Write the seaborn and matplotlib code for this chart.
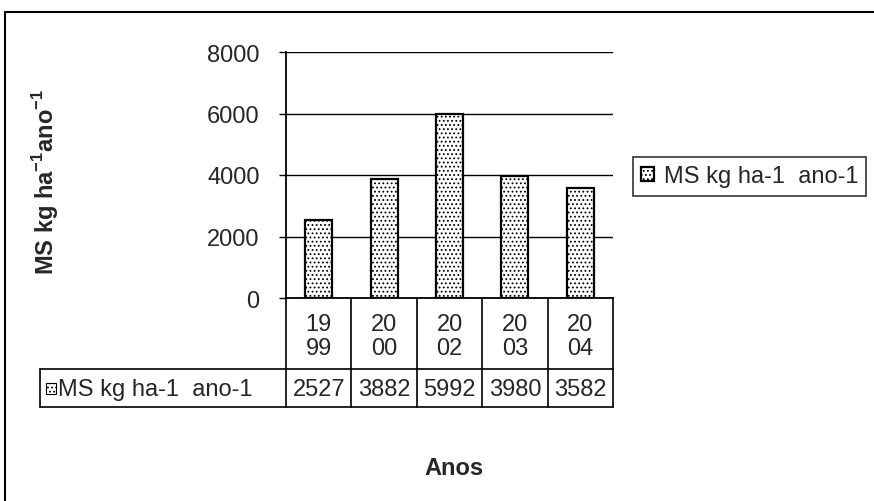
import matplotlib
matplotlib.use('Agg')
import matplotlib.pyplot as plt
from matplotlib.patches import Rectangle
from matplotlib.lines import Line2D
import seaborn as sns
import numpy as np
import pandas as pd

# Data
anos = ['1999', '2000', '2002', '2003', '2004']
ms_valores = [2527, 3882, 5992, 3980, 3582]
serie = 'MS kg ha-1  ano-1'
y_ticks = [0, 2000, 4000, 6000, 8000]

df = pd.DataFrame({'Ano': anos, 'MS': ms_valores})

sns.set_style('white')
plt.rcParams['font.family'] = ['Liberation Sans', 'DejaVu Sans']
plt.rcParams['mathtext.fontset'] = 'custom'
plt.rcParams['mathtext.rm'] = 'Liberation Sans'
plt.rcParams['mathtext.bf'] = 'Liberation Sans:bold'
plt.rcParams['hatch.linewidth'] = 0.8

fs = 17
W, H = 874, 502
fig = plt.figure(figsize=(W / 100, H / 100), dpi=100)

# axes placed by pixel box of the plot area
ax_l, ax_r, ax_t, ax_b = 286, 613, 53, 299
ax = fig.add_axes([ax_l / W, 1 - ax_b / H, (ax_r - ax_l) / W, (ax_b - ax_t) / H])

sns.barplot(data=df, x='Ano', y='MS', color='white', edgecolor='black',
            linewidth=1.6, width=0.41, ax=ax, label=serie)
for p in ax.patches:
    p.set_hatch('....')
    p.set_facecolor('white')

ax.set_ylim(0, 8000)
ax.set_yticks(y_ticks)
ax.set_yticklabels([str(v) for v in y_ticks], fontsize=fs)
ax.tick_params(axis='y', length=5, width=1, color='black', pad=14, left=True)
ax.tick_params(axis='x', length=0, labelbottom=False)
ax.set_xlabel('')
ax.set_ylabel('')
ax.grid(axis='y', color='black', linewidth=1)
ax.set_axisbelow(True)
for s in ['top', 'right']:
    ax.spines[s].set_visible(False)
for s in ['left', 'bottom']:
    ax.spines[s].set_color('black')
    ax.spines[s].set_linewidth(1.3)

# data table under the axis
def fy(px):
    return (ax_b - px) / (ax_b - ax_t)

def fx(px):
    return (px - ax_l) / (ax_r - ax_l)

trans = ax.get_xaxis_transform()
row1, row2 = 370, 408
xs = np.asarray(ax.get_xticks(), dtype=float)
for x in list(xs - 0.5) + [xs[-1] + 0.5]:
    ax.add_line(Line2D([x, x], [0, fy(row2)], transform=trans, color='black',
                       linewidth=1.2, clip_on=False))
for yy in [row1, row2]:
    ax.add_line(Line2D([fx(40), 1.0], [fy(yy), fy(yy)], transform=ax.transAxes,
                       color='black', linewidth=1.2, clip_on=False))
ax.add_line(Line2D([fx(40), fx(40)], [fy(row1), fy(row2)], transform=ax.transAxes,
                   color='black', linewidth=1.2, clip_on=False))

for x, ano, v in zip(xs, anos, ms_valores):
    ax.text(x, fy(337), ano[:2] + '\n' + ano[2:], transform=trans, ha='center',
            va='center', fontsize=fs, linespacing=1.15)
    ax.text(x, fy(390), str(v), transform=trans, ha='center', va='center',
            fontsize=fs)

ax.add_patch(Rectangle((fx(46), fy(395)), fx(56) - fx(46), fy(384) - fy(395),
                       transform=ax.transAxes, facecolor='white', edgecolor='black',
                       linewidth=0.8, hatch='....', clip_on=False))
ax.text(fx(58), fy(390), serie, transform=ax.transAxes, ha='left', va='center',
        fontsize=fs)

# legend
leg = ax.legend(loc='upper left', bbox_to_anchor=(633 / W, 1 - 158 / H),
                bbox_transform=fig.transFigure, borderaxespad=0, fontsize=fs,
                frameon=True, fancybox=False, handlelength=0.55, handleheight=0.55,
                handletextpad=0.4, borderpad=0.35)
leg.get_frame().set_edgecolor('black')
leg.get_frame().set_linewidth(1.2)

# axis titles
fig.text(46 / W, 1 - 182 / H, r'MS kg ha$^{\mathbf{-1}}$ano$^{\mathbf{-1}}$',
         rotation=90, ha='center', va='center', fontsize=fs, fontweight='bold')
fig.text(454 / W, 1 - 469 / H, 'Anos', ha='center', va='center', fontsize=fs,
         fontweight='bold')

# outer chart border
fig.add_artist(Line2D([5 / W, 1], [1 - 13 / H, 1 - 13 / H], transform=fig.transFigure,
                      color='black', linewidth=1.5))
fig.add_artist(Line2D([5 / W, 5 / W], [0, 1 - 13 / H], transform=fig.transFigure,
                      color='black', linewidth=1.5))

fig.savefig('out.png', dpi=100, facecolor='white')
